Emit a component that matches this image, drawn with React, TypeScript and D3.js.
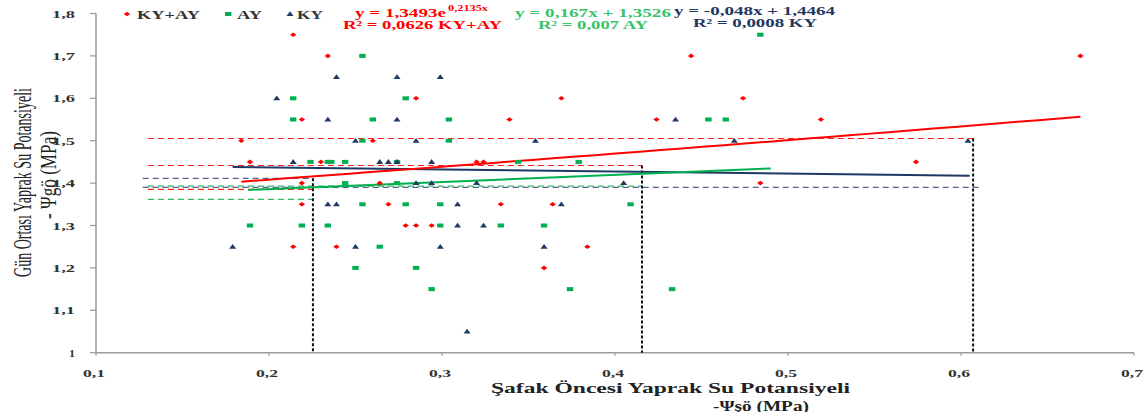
import React from "react";
import * as d3 from "d3";

// KY+AY (red), AY (green), KY (navy) points: [x, y]
const kyayPoints: [number, number][] = [
  [0.214, 1.75],
  [0.234, 1.7], [0.444, 1.7], [0.669, 1.7],
  [0.285, 1.6], [0.369, 1.6], [0.474, 1.6],
  [0.219, 1.55], [0.339, 1.55], [0.424, 1.55], [0.519, 1.55],
  [0.184, 1.5], [0.26, 1.5],
  [0.189, 1.45], [0.23, 1.45], [0.32, 1.45], [0.324, 1.45], [0.574, 1.45],
  [0.219, 1.4], [0.264, 1.4], [0.484, 1.4],
  [0.219, 1.35], [0.269, 1.35], [0.334, 1.35], [0.364, 1.35],
  [0.279, 1.3], [0.285, 1.3], [0.294, 1.3],
  [0.214, 1.25], [0.239, 1.25], [0.384, 1.25],
  [0.359, 1.2],
];

const ayPoints: [number, number][] = [
  [0.484, 1.75],
  [0.254, 1.7],
  [0.214, 1.6], [0.279, 1.6],
  [0.214, 1.55], [0.26, 1.55], [0.304, 1.55], [0.454, 1.55], [0.464, 1.55],
  [0.254, 1.5], [0.304, 1.5],
  [0.224, 1.45], [0.234, 1.45], [0.236, 1.45], [0.244, 1.45], [0.274, 1.45], [0.344, 1.45], [0.379, 1.45],
  [0.244, 1.4], [0.274, 1.4],
  [0.254, 1.35], [0.279, 1.35], [0.299, 1.35], [0.409, 1.35],
  [0.189, 1.3], [0.219, 1.3], [0.234, 1.3], [0.299, 1.3], [0.334, 1.3], [0.359, 1.3],
  [0.264, 1.25],
  [0.25, 1.2], [0.285, 1.2],
  [0.294, 1.15], [0.374, 1.15], [0.433, 1.15],
];

const kyPoints: [number, number][] = [
  [0.239, 1.65], [0.274, 1.65], [0.299, 1.65],
  [0.2045, 1.6],
  [0.234, 1.55], [0.274, 1.55], [0.435, 1.55],
  [0.25, 1.5], [0.285, 1.5], [0.354, 1.5], [0.469, 1.5], [0.604, 1.5],
  [0.214, 1.45], [0.264, 1.45], [0.269, 1.45], [0.274, 1.45], [0.294, 1.45],
  [0.285, 1.4], [0.294, 1.4], [0.32, 1.4], [0.405, 1.4],
  [0.234, 1.35], [0.239, 1.35], [0.309, 1.35], [0.369, 1.35],
  [0.309, 1.3], [0.324, 1.3],
  [0.179, 1.25], [0.25, 1.25], [0.299, 1.25], [0.359, 1.25],
  [0.3145, 1.05],
];

// trendline ranges (x min, x max) and coefficients from the chart's equations
const kyayTrend = { a: 1.3493, b: 0.2135, x0: 0.184, x1: 0.669 };
const ayTrend = { m: 0.167, c: 1.3526, x0: 0.188, x1: 0.49 };
const kyTrend = { m: -0.048, c: 1.4464, x0: 0.179, x1: 0.605 };

// dashed horizontal reference lines
const refH = [
  { s: "kyay", y: 1.5052, x0: 0.13, x1: 0.608 },
  { s: "kyay", y: 1.4415, x0: 0.13, x1: 0.4156 },
  { s: "ky", y: 1.4113, x0: 0.127, x1: 0.2254 },
  { s: "ay", y: 1.3931, x0: 0.13, x1: 0.4156 },
  { s: "ky", y: 1.39, x0: 0.127, x1: 0.611 },
  { s: "kyay", y: 1.3854, x0: 0.13, x1: 0.2254 },
  { s: "ay", y: 1.3618, x0: 0.13, x1: 0.2254 },
];
// dashed vertical black lines
const refV = [
  { x: 0.2254, y: 1.4113 },
  { x: 0.4156, y: 1.4415 },
  { x: 0.607, y: 1.505 },
];

const xTicks = [0.1, 0.2, 0.3, 0.4, 0.5, 0.6, 0.7];
const yTicks = [1, 1.1, 1.2, 1.3, 1.4, 1.5, 1.6, 1.7, 1.8];

const RED = "#ff0000";
const GREEN = "#00b050";
const NAVY = "#1f3864";
const dashColor: Record<string, string> = { kyay: "#ff2020", ay: "#2fb860", ky: "#56658a" };

const fmt = (v: number) => (v === 1 ? "1" : String(Math.round(v * 10) / 10).replace(".", ","));

export default function App() {
  const x = d3.scaleLinear().domain([0.1, 0.7]).range([96, 1134]);
  const y = d3.scaleLinear().domain([1, 1.8]).range([352.7, 13.5]);
  const line = d3.line<[number, number]>().x((d) => x(d[0])).y((d) => y(d[1]));

  const expPts: [number, number][] = d3.range(0, 41).map((i) => {
    const xv = kyayTrend.x0 + ((kyayTrend.x1 - kyayTrend.x0) * i) / 40;
    return [xv, kyayTrend.a * Math.exp(kyayTrend.b * xv)];
  });
  const ayPts: [number, number][] = [
    [ayTrend.x0, ayTrend.m * ayTrend.x0 + ayTrend.c],
    [ayTrend.x1, ayTrend.m * ayTrend.x1 + ayTrend.c],
  ];
  const kyPts: [number, number][] = [
    [kyTrend.x0, kyTrend.m * kyTrend.x0 + kyTrend.c],
    [kyTrend.x1, kyTrend.m * kyTrend.x1 + kyTrend.c],
  ];

  const serif = "'Liberation Serif', 'Times New Roman', serif";
  const tri = (cx: number, cy: number) => `M${cx - 3.5},${cy + 2} L${cx + 3.5},${cy + 2} L${cx},${cy - 2.8} Z`;
  const diamond = (cx: number, cy: number) => `M${cx - 3.2},${cy} L${cx},${cy - 2.3} L${cx + 3.2},${cy} L${cx},${cy + 2.3} Z`;
  const sa = "spacingAndGlyphs";

  return (
    <svg width={1148} height={412} style={{ position: "absolute", left: 0, top: 0, background: "#fff" }} fontFamily={serif}>
      {/* axes */}
      <line x1={x(0.1)} x2={x(0.7)} y1={y(1)} y2={y(1)} stroke="#9a9a9a" strokeWidth={1.5} />
      <line x1={x(0.1)} x2={x(0.1)} y1={y(1)} y2={y(1.8)} stroke="#9a9a9a" strokeWidth={1.5} />
      {yTicks.map((t) => (
        <g key={"y" + t}>
          <line x1={x(0.1) - 6} x2={x(0.1)} y1={y(t)} y2={y(t)} stroke="#9a9a9a" strokeWidth={1.2} />
          <text x={75} y={y(t) + 4} textAnchor="end" fontSize={11} fontWeight="bold" fill="#333"
            textLength={t === 1 ? 6 : 23} lengthAdjust={sa}>
            {fmt(t)}
          </text>
        </g>
      ))}
      {xTicks.map((t) => (
        <g key={"x" + t}>
          <line x1={x(t)} x2={x(t)} y1={y(1)} y2={y(1) + 3} stroke="#9a9a9a" strokeWidth={1.2} />
          <text x={x(t) - 13} y={y(1) + 24.5} fontSize={11} fontWeight="bold" fill="#333" textLength={22} lengthAdjust={sa}>
            {fmt(t)}
          </text>
        </g>
      ))}

      {/* dashed horizontal reference lines */}
      {refH.map((r, i) => (
        <line key={"h" + i} x1={x(r.x0)} x2={x(r.x1)} y1={y(r.y)} y2={y(r.y)} stroke={dashColor[r.s]} strokeWidth={1.2} strokeDasharray="6,4" />
      ))}
      {/* black vertical dashed lines */}
      {refV.map((r, i) => (
        <line key={"v" + i} x1={x(r.x)} x2={x(r.x)} y1={y(r.y)} y2={y(1)} stroke="#111" strokeWidth={2} strokeDasharray="3,2" />
      ))}

      {/* trend lines */}
      <path d={line(kyPts) || ""} fill="none" stroke={NAVY} strokeWidth={2} />
      <path d={line(ayPts) || ""} fill="none" stroke={GREEN} strokeWidth={2} />
      <path d={line(expPts) || ""} fill="none" stroke={RED} strokeWidth={2} />

      {/* points */}
      {ayPoints.map((p, i) => (
        <rect key={"a" + i} x={x(p[0]) - 3.2} y={y(p[1]) - 2} width={6.4} height={4} fill={GREEN} />
      ))}
      {kyPoints.map((p, i) => (
        <path key={"k" + i} d={tri(x(p[0]), y(p[1]))} fill={NAVY} />
      ))}
      {kyayPoints.map((p, i) => (
        <path key={"r" + i} d={diamond(x(p[0]), y(p[1]))} fill={RED} />
      ))}

      {/* legend */}
      <path d={diamond(127, 14)} fill={RED} />
      <text x={137} y={19} fontSize={13} fontWeight="bold" fill="#333" textLength={63} lengthAdjust={sa}>KY+AY</text>
      <rect x={225} y={12} width={6.4} height={4} fill={GREEN} />
      <text x={237} y={19} fontSize={13} fontWeight="bold" fill="#333" textLength={25} lengthAdjust={sa}>AY</text>
      <path d={tri(290, 14)} fill={NAVY} />
      <text x={297} y={19} fontSize={13} fontWeight="bold" fill="#333" textLength={26} lengthAdjust={sa}>KY</text>

      {/* equations */}
      <text x={355} y={17} fontSize={12} fill={RED} fontWeight="bold" textLength={91} lengthAdjust={sa}>y = 1,3493e</text>
      <text x={448} y={11} fontSize={8} fill={RED} fontWeight="bold" textLength={40} lengthAdjust={sa}>0,2135x</text>
      <text x={343} y={29} fontSize={12} fill={RED} fontWeight="bold" textLength={159} lengthAdjust={sa}>R² = 0,0626 KY+AY</text>
      <text x={515} y={17} fontSize={12} fill="#3cc36a" fontWeight="bold" textLength={156} lengthAdjust={sa}>y = 0,167x + 1,3526</text>
      <text x={538} y={29} fontSize={12} fill="#3cc36a" fontWeight="bold" textLength={110} lengthAdjust={sa}>R² = 0,007 AY</text>
      <text x={674} y={15} fontSize={12} fill={NAVY} fontWeight="bold" textLength={161} lengthAdjust={sa}>y = -0,048x + 1,4464</text>
      <text x={693} y={27} fontSize={12} fill={NAVY} fontWeight="bold" textLength={124} lengthAdjust={sa}>R² = 0,0008 KY</text>

      {/* axis titles */}
      <text x={491} y={393} fontSize={15} fontWeight="bold" fill="#222" textLength={359} lengthAdjust={sa}>
        Şafak Öncesi Yaprak Su Potansiyeli
      </text>
      <text x={713} y={410.5} fontSize={15} fontWeight="bold" fill="#222" textLength={96} lengthAdjust={sa}>
        -Ψşö (MPa)
      </text>
      <g transform="translate(31,277) rotate(-90) scale(1,1.8)">
        <text x={0} y={0} fontSize={14} fill="#222" textLength={189} lengthAdjust={sa}>
          Gün Ortası Yaprak Su Potansiyeli
        </text>
      </g>
      <g transform="translate(56,219) rotate(-90) scale(1,1.6)">
        <text x={0} y={0} fontSize={14} fill="#222" textLength={88} lengthAdjust={sa}>
          - Ψgö (MPa)
        </text>
      </g>
    </svg>
  );
}
